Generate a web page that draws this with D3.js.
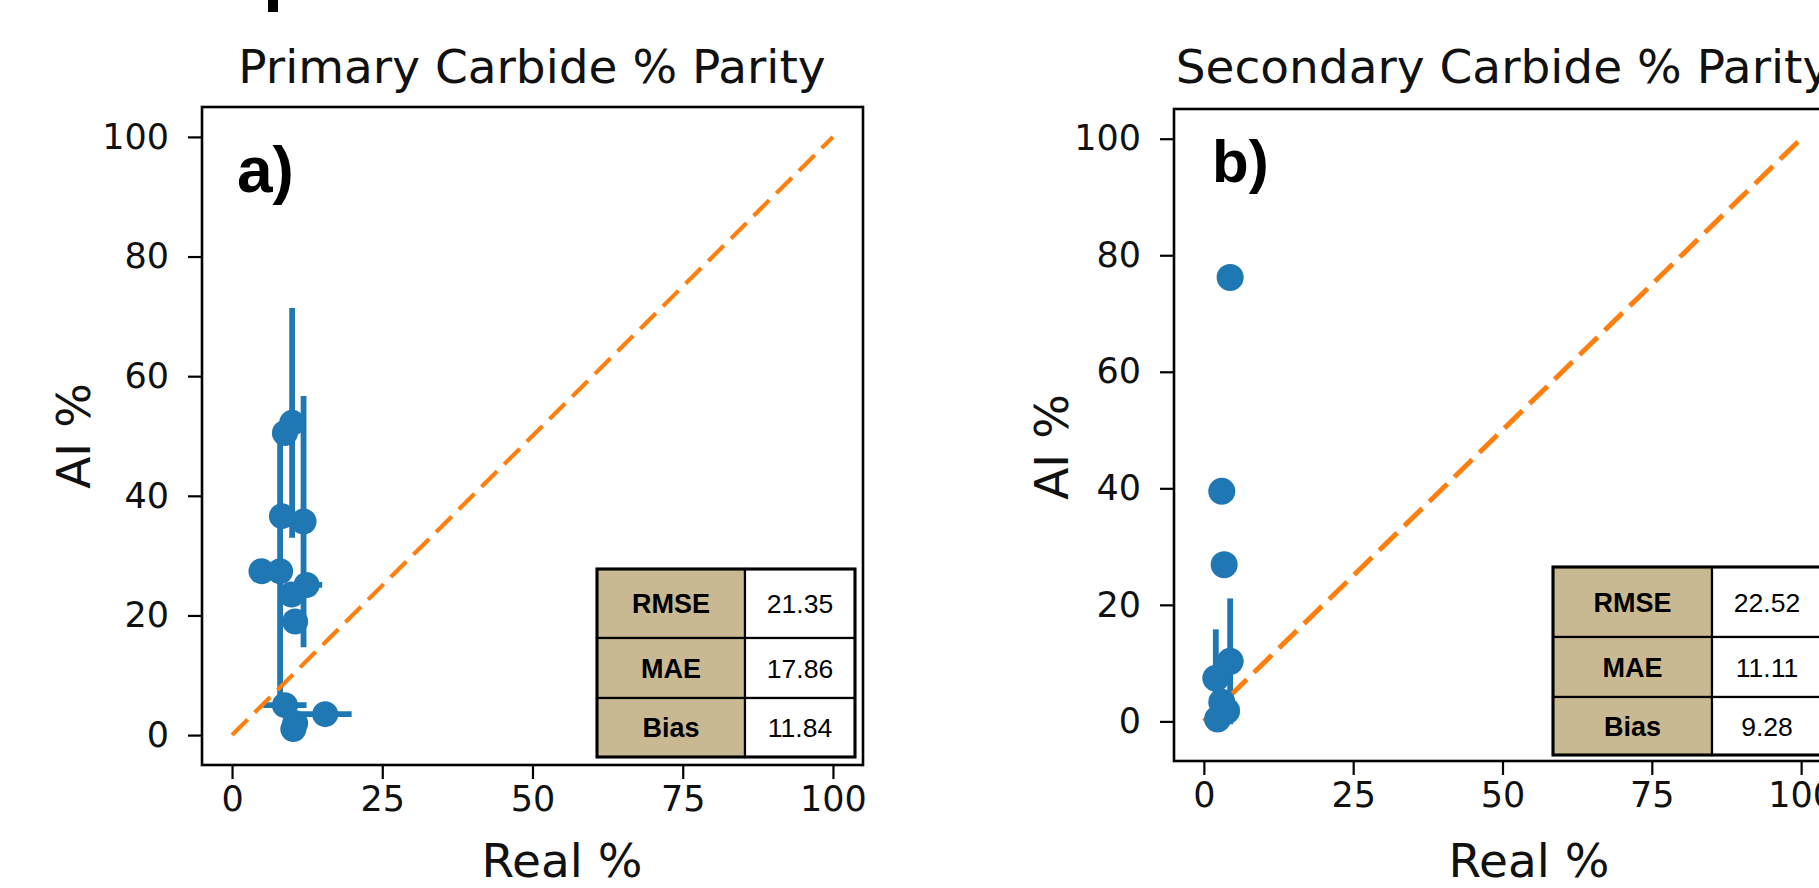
<!DOCTYPE html>
<html><head><meta charset="utf-8">
<script src="https://cdn.jsdelivr.net/npm/d3@7"></script>
<style>body{margin:0;background:#fff;} svg{display:block;}</style>
</head><body>
<svg id="c" width="1819" height="888"></svg>
<script>
// ---------- data ----------
const xTickValues = [0, 25, 50, 75, 100];
const yTickValues = [0, 20, 40, 60, 80, 100];
const titles = ["Primary Carbide % Parity", "Secondary Carbide % Parity"];
const panelLabels = ["a)", "b)"];
const xLabel = "Real %";
const yLabel = "AI %";
const metricNames = ["RMSE", "MAE", "Bias"];
const metricsA = ["21.35", "17.86", "11.84"];
const metricsB = ["22.52", "11.11", "9.28"];
const parityLine = [0, 100];

// panel a: Primary carbide
const realA = [10.0, 8.8, 11.9, 8.3, 4.9, 8.0, 12.4, 9.9, 10.5, 8.8, 10.5, 10.2, 15.5];
const aiA   = [52.2, 50.5, 35.7, 36.6, 27.4, 27.4, 25.1, 23.5, 19.0, 5.0, 2.0, 1.0, 3.5];
const xerrA = [0, 0, 0, 0, 0, 0, 2.6, 0, 0, 3.6, 0, 0, 4.4];
const yerrA = [19.2, 0, 21.0, 0, 0, 22.7, 0, 0, 0, 0, 0, 0, 0];

// panel b: Secondary carbide
const realB = [4.4, 3.0, 3.4, 4.4, 2.0, 3.0, 3.8, 2.3];
const aiB   = [76.2, 39.5, 26.9, 10.3, 7.4, 3.3, 1.8, 0.4];
const xerrB = [0, 0, 0, 0, 0, 0, 0, 0];
const yerrB = [0, 0, 0, 10.8, 8.4, 0, 0, 0];

// ---------- layout ----------
const BLUE = "#1f77b4", ORANGE = "#ff7f0e", TAN = "#c9b993";
const panels = [
  { xd: [-5, 105], xr: [202, 863], yd: [-5, 105], yr: [765, 107],
    real: realA, ai: aiA, xerr: xerrA, yerr: yerrA, metrics: metricsA,
    title: titles[0], label: panelLabels[0],
    labelPos: [237, 192], labelSize: 64,
    titleX: 532, xLabelX: 562, yLabelX: 90, yLabelY: 436,
    tableCols: [597, 745, 855], tableRows: [569, 638, 698, 757], r: 13,
    lineW: 4.2, dash: "22,10" },
  { xd: [-5, 105], xr: [1174, 1831], yd: [-6.8, 105.1], yr: [761, 109],
    real: realB, ai: aiB, xerr: xerrB, yerr: yerrB, metrics: metricsB,
    title: titles[1], label: panelLabels[1],
    labelPos: [1212, 182], labelSize: 60,
    titleX: 1503, xLabelX: 1529, yLabelX: 1068, yLabelY: 447,
    tableCols: [1553, 1712, 1822], tableRows: [567, 637, 697, 755], r: 13.5,
    lineW: 5, dash: "25,10" }
];

const svg = d3.select("#c");
svg.append("rect").attr("width", 1819).attr("height", 888).attr("fill", "#fff");

// small cut-off glyph stroke at the top (from a heading outside the frame)
svg.append("rect").attr("x", 268).attr("y", 0).attr("width", 10).attr("height", 12).attr("fill", "#000");

const DV = "DejaVu Sans, sans-serif";
const LS = "Liberation Sans, Arial, sans-serif";

panels.forEach(p => {
  const x = d3.scaleLinear().domain(p.xd).range(p.xr);
  const y = d3.scaleLinear().domain(p.yd).range(p.yr);
  const g = svg.append("g");

  const line = d3.line().x(d => x(d)).y(d => y(d));

  const pts = p.real.map((v, i) => ({ x: v, y: p.ai[i], xe: p.xerr[i], ye: p.yerr[i] }));
  g.selectAll(".ye").data(pts.filter(d => d.ye > 0)).join("line")
    .attr("x1", d => x(d.x)).attr("x2", d => x(d.x))
    .attr("y1", d => y(d.y - d.ye)).attr("y2", d => y(d.y + d.ye))
    .attr("stroke", BLUE).attr("stroke-width", 5.8);
  g.selectAll(".xe").data(pts.filter(d => d.xe > 0)).join("line")
    .attr("x1", d => x(d.x - d.xe)).attr("x2", d => x(d.x + d.xe))
    .attr("y1", d => y(d.y)).attr("y2", d => y(d.y))
    .attr("stroke", BLUE).attr("stroke-width", 5.8);

  g.append("path").datum(parityLine).attr("d", line)
    .attr("fill", "none").attr("stroke", ORANGE).attr("stroke-width", p.lineW)
    .attr("stroke-dasharray", p.dash);

  g.selectAll("circle").data(pts).join("circle")
    .attr("cx", d => x(d.x)).attr("cy", d => y(d.y)).attr("r", p.r)
    .attr("fill", BLUE);

  // table
  const [c0, c1, c2] = p.tableCols;
  const rows = p.tableRows;
  metricNames.forEach((m, i) => {
    g.append("rect").attr("x", c0).attr("y", rows[i]).attr("width", c1 - c0).attr("height", rows[i + 1] - rows[i])
      .attr("fill", TAN).attr("stroke", "#000").attr("stroke-width", 2.2);
    g.append("rect").attr("x", c1).attr("y", rows[i]).attr("width", c2 - c1).attr("height", rows[i + 1] - rows[i])
      .attr("fill", "#fff").attr("stroke", "#000").attr("stroke-width", 2.2);
    const cy = (rows[i] + rows[i + 1]) / 2;
    g.append("text").attr("x", (c0 + c1) / 2).attr("y", cy).attr("dy", "0.36em")
      .attr("text-anchor", "middle").attr("font-family", LS).attr("font-weight", "bold")
      .attr("font-size", 27).text(m);
    g.append("text").attr("x", (c1 + c2) / 2).attr("y", cy).attr("dy", "0.36em")
      .attr("text-anchor", "middle").attr("font-family", LS)
      .attr("font-size", 26.5).text(p.metrics[i]);
  });
  g.append("rect").attr("x", c0).attr("y", rows[0]).attr("width", c2 - c0).attr("height", rows[3] - rows[0])
    .attr("fill", "none").attr("stroke", "#000").attr("stroke-width", 3);

  // spines
  g.append("rect").attr("x", p.xr[0]).attr("y", p.yr[1])
    .attr("width", p.xr[1] - p.xr[0]).attr("height", p.yr[0] - p.yr[1])
    .attr("fill", "none").attr("stroke", "#000").attr("stroke-width", 2.6);

  // axes
  const ax = g.append("g").attr("transform", `translate(0,${p.yr[0]})`)
    .call(d3.axisBottom(x).tickValues(xTickValues).tickSize(14).tickPadding(7));
  const ay = g.append("g").attr("transform", `translate(${p.xr[0]},0)`)
    .call(d3.axisLeft(y).tickValues(yTickValues).tickSize(14).tickPadding(19));
  [ax, ay].forEach(a => {
    a.select(".domain").remove();
    a.selectAll("line").attr("stroke", "#000").attr("stroke-width", 2.2);
    a.selectAll("text").attr("font-family", DV).attr("font-size", 35).attr("fill", "#111");
  });

  // panel label
  g.append("text").attr("x", p.labelPos[0]).attr("y", p.labelPos[1])
    .attr("font-family", LS).attr("font-weight", "bold").attr("font-size", p.labelSize).text(p.label);

  // title
  g.append("text").attr("x", p.titleX).attr("y", 83).attr("text-anchor", "middle")
    .attr("font-family", DV).attr("font-size", 47).attr("fill", "#111").text(p.title);

  // axis labels
  g.append("text").attr("x", p.xLabelX).attr("y", 877).attr("text-anchor", "middle")
    .attr("font-family", DV).attr("font-size", 47).attr("fill", "#111").text(xLabel);
  g.append("text").attr("transform", `translate(${p.yLabelX},${p.yLabelY}) rotate(-90)`)
    .attr("text-anchor", "middle")
    .attr("font-family", DV).attr("font-size", 47).attr("fill", "#111").text(yLabel);
});
</script>
</body></html>
